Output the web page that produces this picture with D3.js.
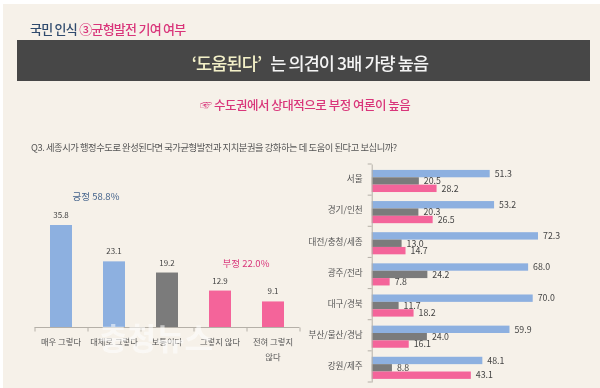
<!DOCTYPE html>
<html>
<head>
<meta charset="utf-8">
<script src="https://cdn.jsdelivr.net/npm/d3@7"></script>
<style>
html, body { margin: 0; padding: 0; background: #fff; }
svg { display: block; filter: blur(0.35px); }
text { font-family: "Noto Sans CJK KR", "Noto Sans", sans-serif; }
</style>
</head>
<body>
<div id="chart"></div>
<script>
// left chart
const answers = ["매우 그렇다", "대체로 그렇다", "보통이다", "그렇지 않다", "전혀 그렇지 않다"];
const answerValues = [35.8, 23.1, 19.2, 12.9, 9.1];
const answerGroups = ["pos", "pos", "mid", "neg", "neg"];

// right chart
const regions = ["서울", "경기/인천", "대전/충청/세종", "광주/전라", "대구/경북", "부산/울산/경남", "강원/제주"];
const seriesNames = ["pos", "mid", "neg"];
const posValues = [51.3, 53.2, 72.3, 68.0, 70.0, 59.9, 48.1];
const midValues = [20.5, 20.3, 13.0, 24.2, 11.7, 24.0, 8.8];
const negValues = [28.2, 26.5, 14.7, 7.8, 18.2, 16.1, 43.1];

const colors = { pos: "#8db0e0", mid: "#7b7b7b", neg: "#f4649a" };

const svg = d3.select("#chart").append("svg")
    .attr("width", 600)
    .attr("height", 388);

// page background
svg.append("rect").attr("x", 3).attr("y", 4).attr("width", 597).attr("height", 384).attr("fill", "#f6f1e9");

// heading
let heading = svg.append("text").attr("x", 30).attr("y", 34).attr("font-size", 13).attr("font-weight", 500).attr("letter-spacing", -0.75);
heading.append("tspan").attr("fill", "#2f4a6d").text("국민 인식 ");
heading.append("tspan").attr("fill", "#d9357a").text("③균형발전 기여 여부");

// dark banner
svg.append("rect").attr("x", 17).attr("y", 40).attr("width", 573).attr("height", 41).attr("fill", "#474747");
let banner = svg.append("text").attr("x", 310).attr("y", 70).attr("text-anchor", "middle")
    .attr("font-size", 17.5).attr("font-weight", 500).attr("letter-spacing", -0.9);
banner.append("tspan").attr("fill", "#f3f0c8").text("‘도움된다’");
banner.append("tspan").attr("fill", "#f4f4f4").attr("dx", 9).text("는 의견이 3배 가량 높음");

svg.append("text").attr("x", 305).attr("y", 110).attr("text-anchor", "middle")
    .attr("font-size", 12.5).attr("font-weight", 500).attr("letter-spacing", -0.5).attr("fill", "#d9357a")
    .text("☞ 수도권에서 상대적으로 부정 여론이 높음");

svg.append("text").attr("x", 31).attr("y", 151).attr("font-size", 9.3).attr("letter-spacing", -0.45).attr("fill", "#555")
    .text("Q3. 세종시가 행정수도로 완성된다면 국가균형발전과 지치분권을 강화하는 데 도움이 된다고 보십니까?");

// ---- left bar chart ----
const barLeft = { x0: 34.5, x1: 299.5, base: 327.5 };
let answerScale = d3.scaleBand().domain(answers).range([barLeft.x0, barLeft.x1]).paddingInner(0.585).paddingOuter(0.2925);
let answerY = d3.scaleLinear().domain([0, 35.8]).range([barLeft.base, 225]);

svg.selectAll(".answerBar").data(answers).join("rect")
    .attr("class", "answerBar")
    .attr("x", d => answerScale(d))
    .attr("width", answerScale.bandwidth())
    .attr("y", (d, i) => answerY(answerValues[i]))
    .attr("height", (d, i) => barLeft.base - answerY(answerValues[i]))
    .attr("fill", (d, i) => colors[answerGroups[i]]);

svg.selectAll(".answerVal").data(answers).join("text")
    .attr("class", "answerVal")
    .attr("x", d => answerScale(d) + answerScale.bandwidth() / 2)
    .attr("y", (d, i) => answerY(answerValues[i]) - 7)
    .attr("text-anchor", "middle").attr("font-size", 8).attr("fill", "#444")
    .text((d, i) => answerValues[i].toFixed(1));

// axis line with ticks between the bands
let answerAxis = svg.append("g").attr("transform", `translate(0,${barLeft.base})`)
    .call(d3.axisBottom(d3.scaleLinear().domain([0, 5]).range([barLeft.x0, barLeft.x1])).ticks(5).tickSize(4).tickFormat(""));
answerAxis.select(".domain").attr("stroke", "#b5b0a8").attr("d", `M${barLeft.x0},0H${barLeft.x1}`);
answerAxis.selectAll("line").attr("stroke", "#b5b0a8");

const answerLines = [["매우 그렇다"], ["대체로 그렇다"], ["보통이다"], ["그렇지 않다"], ["전혀 그렇지", "않다"]];
answers.forEach((a, i) => {
    answerLines[i].forEach((line, k) => {
        svg.append("text")
            .attr("x", answerScale(a) + answerScale.bandwidth() / 2)
            .attr("y", 345 + k * 15)
            .attr("text-anchor", "middle").attr("font-size", 8.3).attr("fill", "#555")
            .text(line);
    });
});

svg.append("text").attr("x", 96).attr("y", 200).attr("text-anchor", "middle")
    .attr("font-size", 9.5).attr("fill", "#45648c").text("긍정 58.8%");
svg.append("text").attr("x", 246).attr("y", 267).attr("text-anchor", "middle")
    .attr("font-size", 9.5).attr("fill", "#d9357a").text("부정 22.0%");

// ---- right grouped bars ----
const regionBox = { x0: 371.7, top: 164, bottom: 382 };
let regionScale = d3.scaleBand().domain(regions).range([regionBox.top, regionBox.bottom]);
let seriesScale = d3.scaleBand().domain(seriesNames).range([regionScale.bandwidth() * 0.19, regionScale.bandwidth() * 0.9]);
let valueX = d3.scaleLinear().domain([0, 72.3]).range([regionBox.x0, 538]);

let seriesData = { pos: posValues, mid: midValues, neg: negValues };
let regionGroups = svg.selectAll(".region").data(regions).join("g")
    .attr("class", "region")
    .attr("transform", d => `translate(0,${regionScale(d)})`);

seriesNames.forEach(name => {
    regionGroups.append("rect")
        .attr("x", regionBox.x0)
        .attr("y", seriesScale(name))
        .attr("height", seriesScale.bandwidth())
        .attr("width", (d, i) => valueX(seriesData[name][i]) - regionBox.x0)
        .attr("fill", colors[name]);
    regionGroups.append("text")
        .attr("x", (d, i) => valueX(seriesData[name][i]) + 5)
        .attr("y", seriesScale(name) + seriesScale.bandwidth() / 2 + 3.3)
        .attr("font-size", 8.8).attr("fill", "#444")
        .text((d, i) => seriesData[name][i].toFixed(1));
});

let regionAxis = svg.append("g").attr("transform", `translate(${regionBox.x0},0)`)
    .call(d3.axisLeft(regionScale).tickSize(0).tickPadding(9));
regionAxis.select(".domain").attr("stroke", "#b5b0a8");
regionAxis.selectAll("text").attr("font-size", 8.6).attr("fill", "#555")
    .style("font-family", '"Noto Sans CJK KR", sans-serif');
// tick marks sit between the categories
regionAxis.selectAll(".sep").data(d3.range(regions.length + 1)).join("line")
    .attr("class", "sep")
    .attr("x1", -4).attr("x2", 0)
    .attr("y1", i => regionBox.top + i * regionScale.step())
    .attr("y2", i => regionBox.top + i * regionScale.step())
    .attr("stroke", "#b5b0a8");

// watermark
svg.append("text").attr("x", 156).attr("y", 350).attr("text-anchor", "middle")
    .attr("font-size", 31).attr("font-weight", 700).attr("fill", "#fff").attr("opacity", 0.55)
    .text("충청뉴스");
</script>
</body>
</html>
